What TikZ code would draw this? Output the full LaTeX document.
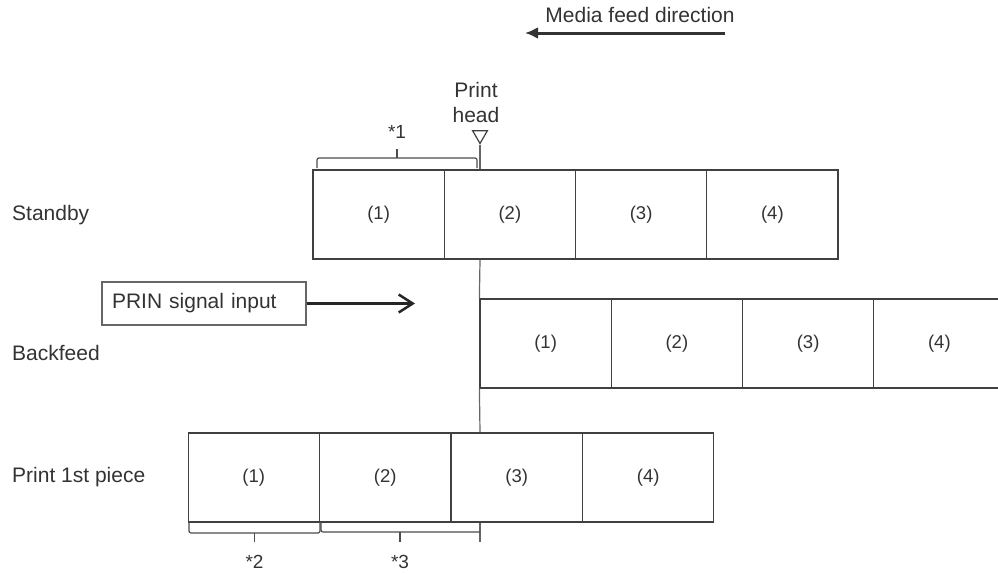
\documentclass[tikz,border=0pt]{standalone}
\usepackage{fontspec}
\setmainfont{Liberation Sans}
\usetikzlibrary{arrows.meta, shapes.geometric, positioning}
\tikzset{
  cell/.style={draw=black!75, line width=1.2pt, minimum width=131.25pt, minimum height=89pt, inner sep=0pt, font=\fontsize{18.5}{20}\selectfont, text=black!80},
  rowlabel/.style={anchor=west, inner sep=0pt, font=\fontsize{21}{25}\selectfont, text=black!80},
  starlabel/.style={inner sep=0pt, font=\fontsize{19}{22}\selectfont, text=black!80},
  headline/.style={draw=black!60, line width=1.2pt},
  brace/.style={draw=black!70, line width=1.2pt, rounded corners=2pt},
}

\begin{document}
\begin{tikzpicture}[x=1pt, y=-1pt]
\useasboundingbox (0,0) rectangle (998,573);
\clip (0,0) rectangle (998,573);
\foreach \i in {1,...,4} {
    \node[cell] (s\i) at ({313+131.25*\i-65.625}, 214.5) {(\i)};
    \node[cell] (b\i) at ({480+131.25*\i-65.625}, 343.5) {(\i)};
    \node[cell] (p\i) at ({188+131.5*\i-65.75}, 477.5) {(\i)};
}
\node[rowlabel] (standby) at (12,215) {Standby};
\node[rowlabel] (backfeed) at (12,353) {Backfeed};
\node[rowlabel] (print) at (12,477) {Print 1st piece};

\node[draw=black!75, line width=1.2pt, regular polygon, regular polygon sides=3, shape border rotate=180, minimum size=17pt, inner sep=0pt] (head) at (480,135) {};
\node[rowlabel, anchor=center, align=center] (headlabel) at (476,102) {Print\\head};
\coordinate (headend) at (480,542);
\draw[headline] (head.corner 1) -- (head.corner 1 |- s1.north);
\draw[headline] (head.corner 1 |- s1.south) -- (b1.north west);
\draw[headline] (b1.south west) -- (head.corner 1 |- p1.north);
\draw[headline] (head.corner 1 |- p1.south) -- (headend);

\draw[brace] (317,168) -- (317,158) -- (477,158) -- (477,168);
\draw[brace] (397,158) -- (397,149);
\node[starlabel] (star1) at (397,132) {*1};
\draw[brace] (189,522) -- (189,533) -- (320,533) -- (320,522);
\draw[brace] (254.5,533) -- (254.5,542);
\node[starlabel] (star2) at (254.5,562) {*2};
\draw[brace] (321,522) -- (321,532) -- (480,532);
\draw[brace] (400,532) -- (400,542);
\node[starlabel] (star3) at (400,562) {*3};

\node[rowlabel, anchor=center] (media) at (640,15) {Media feed direction};
\coordinate (mediastart) at (725,33);
\coordinate (mediaend) at (525,33);
\draw[black!80, line width=3pt, -{Latex[length=13pt, width=12pt]}] (mediastart) -- (mediaend);

\node[draw=black!60, line width=1.2pt, minimum height=43pt, inner xsep=10pt, inner ysep=0pt, text width=184pt, align=left, font=\fontsize{21}{24}\selectfont, text=black!80] (prin) at (204,303.5) {PRIN signal input};
\coordinate (prinend) at (415,303.5);
\draw[black!85, line width=2.5pt, -{Straight Barb[length=14pt, width=18pt]}] (prin) -- (prinend);
\end{tikzpicture}
\end{document}
